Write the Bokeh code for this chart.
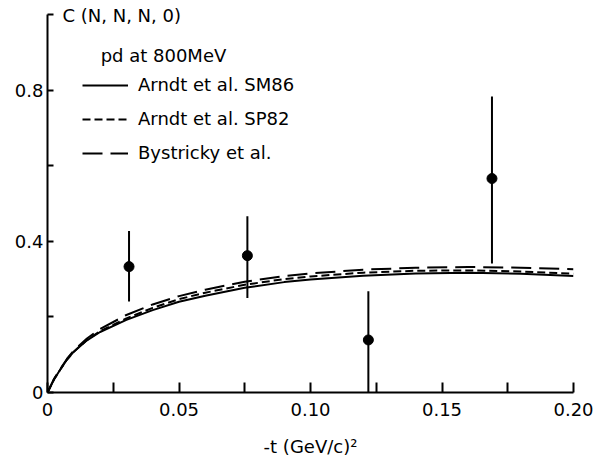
from bokeh.plotting import figure
from bokeh.models import FixedTicker, Range1d, Legend, LegendItem, Label
from bokeh.embed import file_html
from bokeh.resources import INLINE

# ---- data ----
t_curve = [0, 0.0025, 0.005, 0.0075, 0.01, 0.015, 0.02, 0.03, 0.04, 0.05, 0.06,
           0.075, 0.09, 0.10, 0.12, 0.14, 0.16, 0.18, 0.20]
sm86 = [0, 0.035, 0.062, 0.088, 0.108, 0.138, 0.160, 0.192, 0.218, 0.240, 0.256,
        0.277, 0.292, 0.299, 0.309, 0.315, 0.317, 0.314, 0.308]
sp82 = [0, 0.035, 0.062, 0.088, 0.108, 0.139, 0.162, 0.196, 0.224, 0.247, 0.264,
        0.285, 0.300, 0.307, 0.317, 0.322, 0.323, 0.320, 0.314]
bystricky = [0, 0.036, 0.064, 0.090, 0.111, 0.143, 0.168, 0.205, 0.233, 0.255, 0.272,
             0.293, 0.308, 0.315, 0.325, 0.330, 0.332, 0.330, 0.326]

t_data = [0.031, 0.076, 0.122, 0.169]
c_data = [0.333, 0.362, 0.139, 0.566]
c_low = [0.241, 0.250, 0.0, 0.341]
c_high = [0.427, 0.466, 0.268, 0.783]

x_major = [0, 0.05, 0.10, 0.15, 0.20]
x_minor = [0.025, 0.075, 0.125, 0.175]
x_labels = ["0", "0.05", "0.10", "0.15", "0.20"]
y_major = [0, 0.4, 0.8]
y_minor = [0.2, 0.6, 1.0]
y_labels = ["0", "0.4", "0.8"]

FONT = "DejaVu Sans"
FS2 = "18px"
INK = "black"

p = figure(width=600, height=459, output_backend="svg", toolbar_location=None,
           x_range=Range1d(0, 0.20), y_range=Range1d(0, 1.0317),
           min_border_left=47, min_border_right=27, min_border_top=2,
           min_border_bottom=66)
p.outline_line_color = None
p.xgrid.visible = False
p.ygrid.visible = False
p.background_fill_color = "white"
p.border_fill_color = "white"

# x axis
xa = p.xaxis[0]
xa.ticker = FixedTicker(ticks=x_major, minor_ticks=x_minor)
xa.major_label_overrides = {v: s for v, s in zip(x_major, x_labels)}
xa.major_tick_in = 10
xa.major_tick_out = 0
xa.minor_tick_in = 10
xa.minor_tick_out = 0
xa.axis_line_width = 2
xa.major_tick_line_width = 2
xa.minor_tick_line_width = 2
xa.axis_line_color = INK
xa.major_tick_line_color = INK
xa.minor_tick_line_color = INK
xa.major_label_text_font = FONT
xa.major_label_text_font_size = FS2
xa.major_label_text_color = INK
xa.major_label_standoff = 10
xa.axis_label = "-t (GeV/c)²"
xa.axis_label_text_font = FONT
xa.axis_label_text_font_size = FS2
xa.axis_label_text_font_style = "normal"
xa.axis_label_text_color = INK
xa.axis_label_standoff = 17

# y axis
ya = p.yaxis[0]
ya.bounds = (0, 1.0)
ya.ticker = FixedTicker(ticks=y_major, minor_ticks=y_minor)
ya.major_label_overrides = {v: s for v, s in zip(y_major, y_labels)}
ya.major_tick_in = 6
ya.major_tick_out = 0
ya.minor_tick_in = 6
ya.minor_tick_out = 0
ya.axis_line_width = 2
ya.major_tick_line_width = 2
ya.minor_tick_line_width = 2
ya.axis_line_color = INK
ya.major_tick_line_color = INK
ya.minor_tick_line_color = INK
ya.major_label_text_font = FONT
ya.major_label_text_font_size = FS2
ya.major_label_text_color = INK
ya.major_label_standoff = 4
ya.major_label_orientation = "horizontal"

# curves
r1 = p.line(t_curve, sm86, line_color=INK, line_width=2)
r2 = p.line(t_curve, sp82, line_color=INK, line_width=2, line_dash="8 4")
r3 = p.line(t_curve, bystricky, line_color=INK, line_width=2, line_dash="20 8")

# data with error bars
p.segment(x0=t_data, y0=c_low, x1=t_data, y1=c_high, line_color=INK, line_width=2)
p.scatter(t_data, c_data, size=10, color=INK)

legend = Legend(items=[
    LegendItem(label="Arndt et al. SM86", renderers=[r1]),
    LegendItem(label="Arndt et al. SP82", renderers=[r2]),
    LegendItem(label="Bystricky et al.", renderers=[r3]),
], location=(35, 229))
legend.padding = 0
legend.margin = 0
legend.spacing = 13
legend.glyph_width = 46
legend.glyph_height = 20
legend.label_height = 20
legend.label_standoff = 10
legend.label_text_font = FONT
legend.label_text_font_size = FS2
legend.label_text_color = INK
legend.border_line_color = None
legend.background_fill_alpha = 0
p.add_layout(legend)

p.add_layout(Label(x=0.0057, y=0.997, text="C (N, N, N, 0)", text_font=FONT,
                   text_font_size=FS2, text_color=INK, text_baseline="middle",
                   text_align="left"))
p.add_layout(Label(x=0.0202, y=0.892, text="pd at 800MeV", text_font=FONT,
                   text_font_size=FS2, text_color=INK, text_baseline="middle",
                   text_align="left"))

open("out.html", "w").write(file_html(p, INLINE))
